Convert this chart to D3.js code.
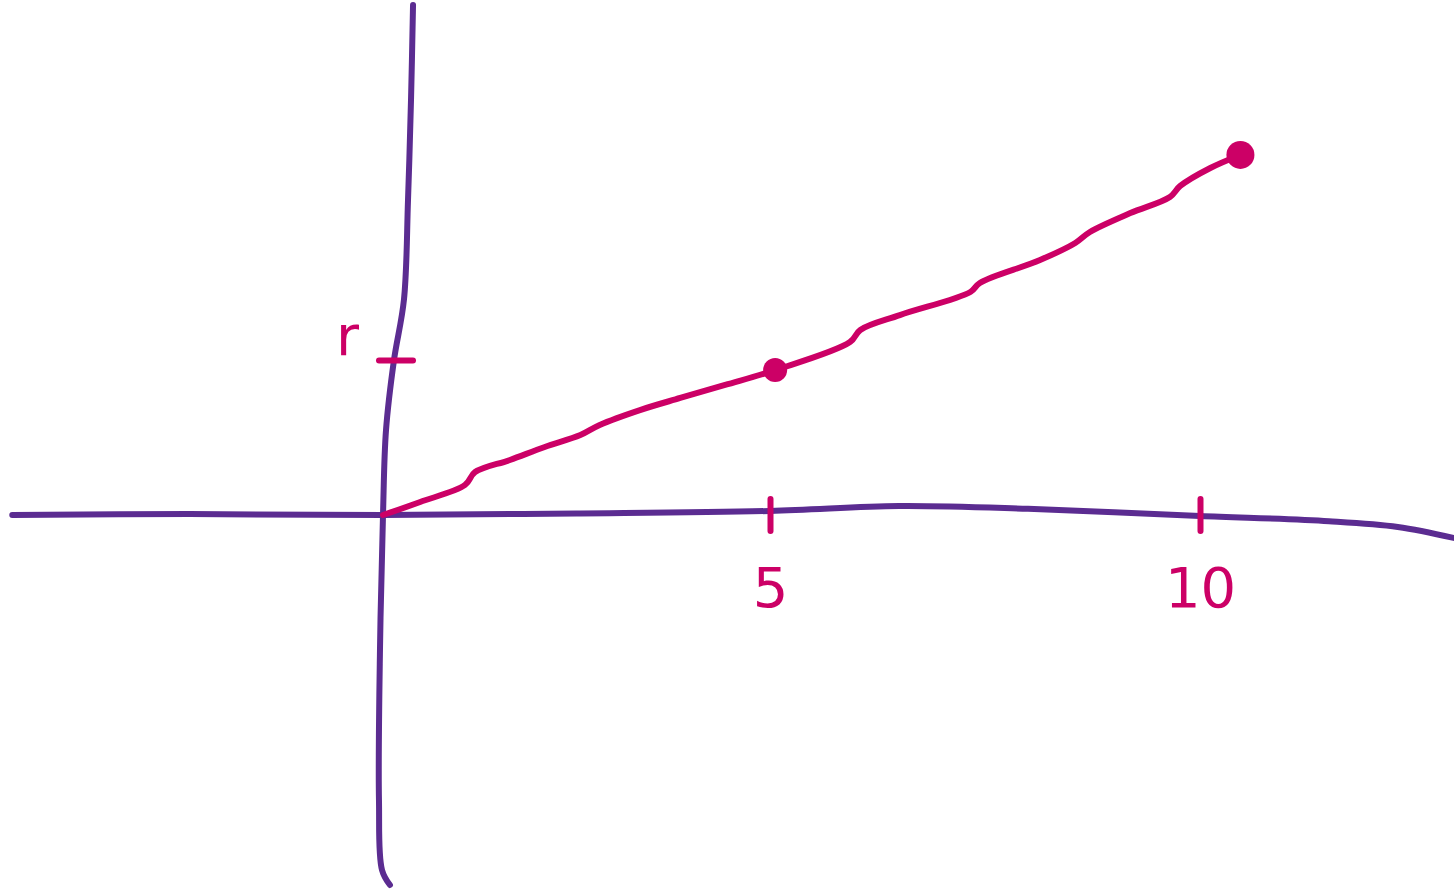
<!DOCTYPE html>
<html>
<head>
<meta charset="utf-8">
<script src="https://cdn.jsdelivr.net/npm/d3@7"></script>
<style>
  html, body { margin: 0; padding: 0; background: #fff; }
  .tick text { font-family: "DejaVu Sans", sans-serif; }
</style>
</head>
<body>
<div class="canvas"></div>
<script>
// hand sketched line through the origin, values in chart units
const lineX = [0, 0.48, 1.06, 1.19, 1.64, 2.09, 2.55, 2.80, 3.32, 3.84, 4.42, 5.06,
               5.93, 6.05, 6.51, 7.33, 7.44, 8.14, 8.55, 8.72, 9.19, 9.65, 9.77, 10.12, 10.47];
const lineY = [0, 0.084, 0.194, 0.277, 0.355, 0.439, 0.516, 0.581, 0.677, 0.755, 0.839, 0.935,
               1.116, 1.194, 1.29, 1.439, 1.497, 1.645, 1.755, 1.826, 1.948, 2.052, 2.123, 2.239, 2.323];

// the two dots on the line
const dotX = [5.06, 10.47];
const dotY = [0.935, 2.323];

// tick labels
const xTicks = [5, 10];
const xTickLabels = ['5', '10'];
const yTicks = [1];
const yTickLabels = ['r'];

// wobbly hand drawn axes (chart units)
const xAxisX = [-4.79, -2.5, 0, 2.5, 5, 6.5, 8, 10, 11.5, 12.3, 12.95];
const xAxisY = [0, 0.006, 0, 0.01, 0.026, 0.058, 0.04, -0.006, -0.04, -0.077, -0.148];
const yAxisX = [0.388, 0.362, 0.323, 0.271, 0.142, 0.039, 0, -0.039, -0.052, -0.013, 0.09];
const yAxisY = [3.29, 2.68, 2.03, 1.39, 1.0, 0.548, 0, -0.871, -1.839, -2.29, -2.387];

const width = 1454, height = 893;
const purple = '#5b2c91';
const pink = '#cc0066';

const svg = d3.select('.canvas')
    .append('svg')
    .attr('width', width)
    .attr('height', height);

// scales (hand drawn so the unit spacing is a bit uneven)
const x = d3.scaleLinear()
    .domain([0, 5, 10])
    .range([383, 770, 1200]);

const y = d3.scaleLinear()
    .domain([0, 1])
    .range([515, 360]);

const path = d3.line()
    .x(d => x(d[0]))
    .y(d => y(d[1]))
    .curve(d3.curveCatmullRom.alpha(0.5));

// axes lines
svg.append('path')
    .datum(xAxisX.map((v, i) => [v, xAxisY[i]]))
    .attr('d', path)
    .attr('fill', 'none')
    .attr('stroke', purple)
    .attr('stroke-width', 6)
    .attr('stroke-linecap', 'round');

svg.append('path')
    .datum(yAxisX.map((v, i) => [v, yAxisY[i]]))
    .attr('d', path)
    .attr('fill', 'none')
    .attr('stroke', purple)
    .attr('stroke-width', 6)
    .attr('stroke-linecap', 'round');

// x ticks + labels
const xAxis = d3.axisBottom(x)
    .tickValues(xTicks)
    .tickSize(32)
    .tickPadding(36)
    .tickFormat((d, i) => xTickLabels[i]);

const xAxisGroup = svg.append('g')
    .attr('transform', `translate(0, ${y(0) - 16})`)
    .call(xAxis);

// y ticks + labels
const yAxis = d3.axisLeft(y)
    .tickValues(yTicks)
    .tickSize(34)
    .tickPadding(20)
    .tickFormat((d, i) => yTickLabels[i]);

const yAxisGroup = svg.append('g')
    .attr('transform', `translate(${x(0) + 30}, 0)`)
    .call(yAxis);

[xAxisGroup, yAxisGroup].forEach(g => {
    g.select('.domain').remove();
    g.selectAll('.tick line')
        .attr('stroke', pink)
        .attr('stroke-width', 6)
        .attr('stroke-linecap', 'round');
    g.selectAll('.tick text')
        .attr('fill', pink)
        .style('font-size', '56px');
});
yAxisGroup.selectAll('.tick text').attr('dy', '-0.1em');

// the sketched line
svg.append('path')
    .datum(lineX.map((v, i) => [v, lineY[i]]))
    .attr('d', path)
    .attr('fill', 'none')
    .attr('stroke', pink)
    .attr('stroke-width', 6)
    .attr('stroke-linecap', 'round')
    .attr('stroke-linejoin', 'round');

// dots
svg.selectAll('circle.dot')
    .data(dotX.map((v, i) => [v, dotY[i]]))
    .enter()
    .append('circle')
    .attr('class', 'dot')
    .attr('cx', d => x(d[0]))
    .attr('cy', d => y(d[1]))
    .attr('r', (d, i) => i === 0 ? 12 : 14)
    .attr('fill', pink);
</script>
</body>
</html>
